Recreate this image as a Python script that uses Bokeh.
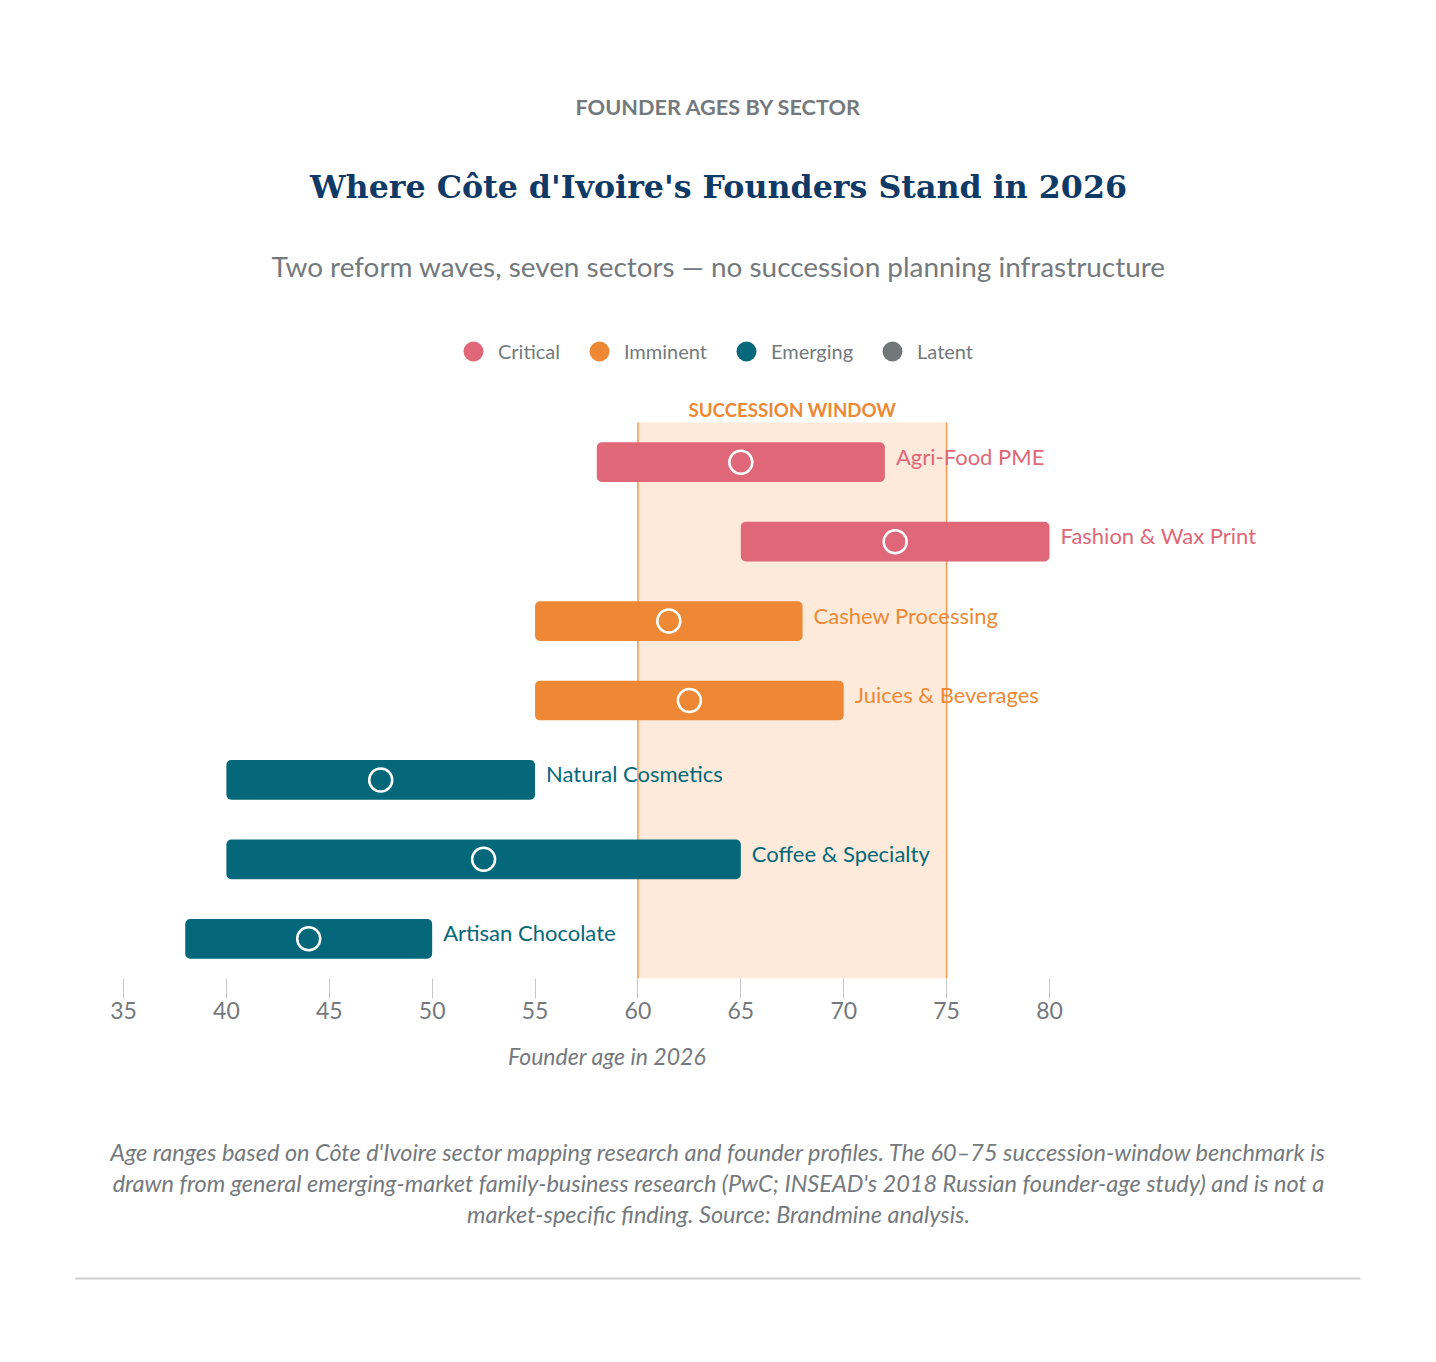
from bokeh.plotting import figure
from bokeh.layouts import column
from bokeh.models import (Range1d, ColumnDataSource, BoxAnnotation, Label, LabelSet,
                          Legend, LegendItem)
from bokeh.core.properties import value, field
from bokeh.embed import file_html
from bokeh.resources import INLINE

# ---------------- data ----------------
sectors = ["Agri-Food PME", "Fashion & Wax Print", "Cashew Processing", "Juices & Beverages",
           "Natural Cosmetics", "Coffee & Specialty", "Artisan Chocolate"]
age_low = [58, 65, 55, 55, 40, 40, 38]
age_high = [72, 80, 68, 70, 55, 65, 50]
age_median = [65, 72.5, 61.5, 62.5, 47.5, 52.5, 44]
status = ["Critical", "Critical", "Imminent", "Imminent", "Emerging", "Emerging", "Emerging"]
status_names = ["Critical", "Imminent", "Emerging", "Latent"]
status_colors = ["#e06777", "#ee8834", "#04687a", "#727779"]
x_ticks = [35, 40, 45, 50, 55, 60, 65, 70, 75, 80]
window_start, window_end = 60, 75

eyebrow = "FOUNDER AGES BY SECTOR"
title_text = "Where Côte d'Ivoire's Founders Stand in 2026"
subtitle = "Two reform waves, seven sectors — no succession planning infrastructure"
window_label = "SUCCESSION WINDOW"
x_label = "Founder age in 2026"
caption_lines = [
    "Age ranges based on Côte d'Ivoire sector mapping research and founder profiles. The 60–75 succession-window benchmark is",
    "drawn from general emerging-market family-business research (PwC; INSEAD's 2018 Russian founder-age study) and is not a",
    "market-specific finding. Source: Brandmine analysis.",
]

# ---------------- layout constants ----------------
W, H = 1436, 1362
X35_PX, X80_PX = 123, 1049          # pixel positions of ages 35 and 80
ROWS_TOP, FB = 422, 978             # top of first row band, bottom of plot frame
HA = 1038                           # height of main figure (frame + axis panel)
HB = H - HA                         # footer height
SANS = "Lato"
GRAY = "#74797d"

kx = (X80_PX - X35_PX) / (80 - 35)
x0 = 35 - X35_PX / kx
x1 = x0 + W / kx
n = len(sectors)
ky = (FB - ROWS_TOP) / n
y_top = -0.5 - ROWS_TOP / ky

color_of = dict(zip(status_names, status_colors))
src = ColumnDataSource(dict(
    row=list(range(n)), sector=sectors, low=age_low, high=age_high, median=age_median,
    status=status, color=[color_of[s] for s in status],
))

p = figure(width=W, height=HA, x_range=Range1d(x0, x1), y_range=Range1d(n - 0.5, y_top),
           output_backend="svg", toolbar_location=None, y_axis_location=None,
           min_border_left=0, min_border_right=0, min_border_top=0,
           min_border_bottom=HA - FB,
           outline_line_color=None, background_fill_color="white", border_fill_color="white")
p.xgrid.visible = False
p.ygrid.visible = False

# succession window
p.quad(left=[window_start], right=[window_end], top=[-0.5], bottom=[n - 0.5],
       fill_color="#fdeadb", line_color=None, level="underlay")
p.segment(x0=[window_start, window_end], x1=[window_start, window_end],
          y0=[-0.5, -0.5], y1=[n - 0.5, n - 0.5], line_color="#f09a50", line_width=1.5,
          level="underlay")
p.add_layout(Label(x=(window_start + window_end) / 2, y=FB - 409, y_units="screen",
                   text=window_label, text_align="center", text_baseline="middle",
                   text_font=SANS, text_font_style="bold", text_font_size="18.7px",
                   text_color="#ee8834"))

# bars
p.hbar(y="row", left="low", right="high", height=0.5, source=src,
       fill_color="color", line_color=None, border_radius=5)
p.scatter(x="median", y="row", source=src, marker="circle", size=23,
          fill_color=None, line_color="white", line_width=2.5)
p.add_layout(LabelSet(x="high", y="row", text="sector", source=src, x_offset=11,
                      y_offset=6, text_baseline="middle", text_color=field("color"),
                      text_font=value(SANS), text_font_size=value("22px")))

# x axis
ax = p.xaxis[0]
ax.ticker = x_ticks
ax.axis_line_color = None
ax.major_tick_in = 0
ax.major_tick_out = 20
ax.major_tick_line_color = "#c8c8c8"
ax.minor_tick_line_color = None
ax.major_label_standoff = 3
ax.major_label_text_font = SANS
ax.major_label_text_font_size = "23px"
ax.major_label_text_color = GRAY

# legend (one swatch renderer per status; NaN position keeps it off the plot)
items = []
for name, col in zip(status_names, status_colors):
    r = p.scatter(x=[float("nan")], y=[float("nan")], marker="circle", size=21,
                  fill_color=col, line_color=None)
    items.append(LegendItem(label=name, renderers=[r]))
legend = Legend(items=items, orientation="horizontal", location=(448, FB - 376),
                border_line_color=None, background_fill_alpha=0, padding=0, margin=0,
                spacing=14, label_standoff=0, glyph_width=50, glyph_height=50,
                label_text_font=SANS, label_text_font_size="20px", label_text_color=GRAY,
                label_text_baseline="middle")
p.add_layout(legend, "center")

# header
cx = W / 2
p.add_layout(Label(x=cx, y=FB - 106, x_units="screen", y_units="screen", text=eyebrow,
                   text_align="center", text_baseline="middle", text_font=SANS,
                   text_font_style="bold", text_font_size="21.7px", text_color=GRAY))
p.add_layout(Label(x=cx, y=FB - 186, x_units="screen", y_units="screen", text=title_text,
                   text_align="center", text_baseline="middle", text_font="DejaVu Serif",
                   text_font_style="bold", text_font_size="31.7px", text_color="#0f3a66"))
p.add_layout(Label(x=cx, y=FB - 265, x_units="screen", y_units="screen", text=subtitle,
                   text_align="center", text_baseline="middle", text_font=SANS,
                   text_font_size="27.9px", text_color=GRAY))

# footer figure: axis title, caption, rule
f = figure(width=W, height=HB, x_range=Range1d(0, 1), y_range=Range1d(0, 1),
           output_backend="svg", toolbar_location=None, x_axis_location=None,
           y_axis_location=None, min_border=0, outline_line_color=None,
           background_fill_color="white", border_fill_color="white")
f.xgrid.visible = False
f.ygrid.visible = False
f.add_layout(Label(x=(X35_PX + (x_ticks[-1] + 2 - 35) * kx + X35_PX) / 2, y=H - 1055,
                   x_units="screen", y_units="screen", text=x_label, text_align="center",
                   text_baseline="middle", text_font=SANS, text_font_style="italic",
                   text_font_size="23px", text_color=GRAY))
for i, line in enumerate(caption_lines):
    f.add_layout(Label(x=cx, y=H - (1151 + 31 * i), x_units="screen", y_units="screen",
                       text=line, text_align="center", text_baseline="middle",
                       text_font=SANS, text_font_style="italic", text_font_size="23.5px",
                       text_color=GRAY))
f.add_layout(BoxAnnotation(left=75, right=1360, top=H - 1277, bottom=H - 1279,
                           left_units="screen", right_units="screen", top_units="screen",
                           bottom_units="screen", fill_color="#cfcfcf", fill_alpha=1,
                           line_color=None))

layout = column(p, f, spacing=0)
open("out.html", "w").write(file_html(layout, INLINE))
